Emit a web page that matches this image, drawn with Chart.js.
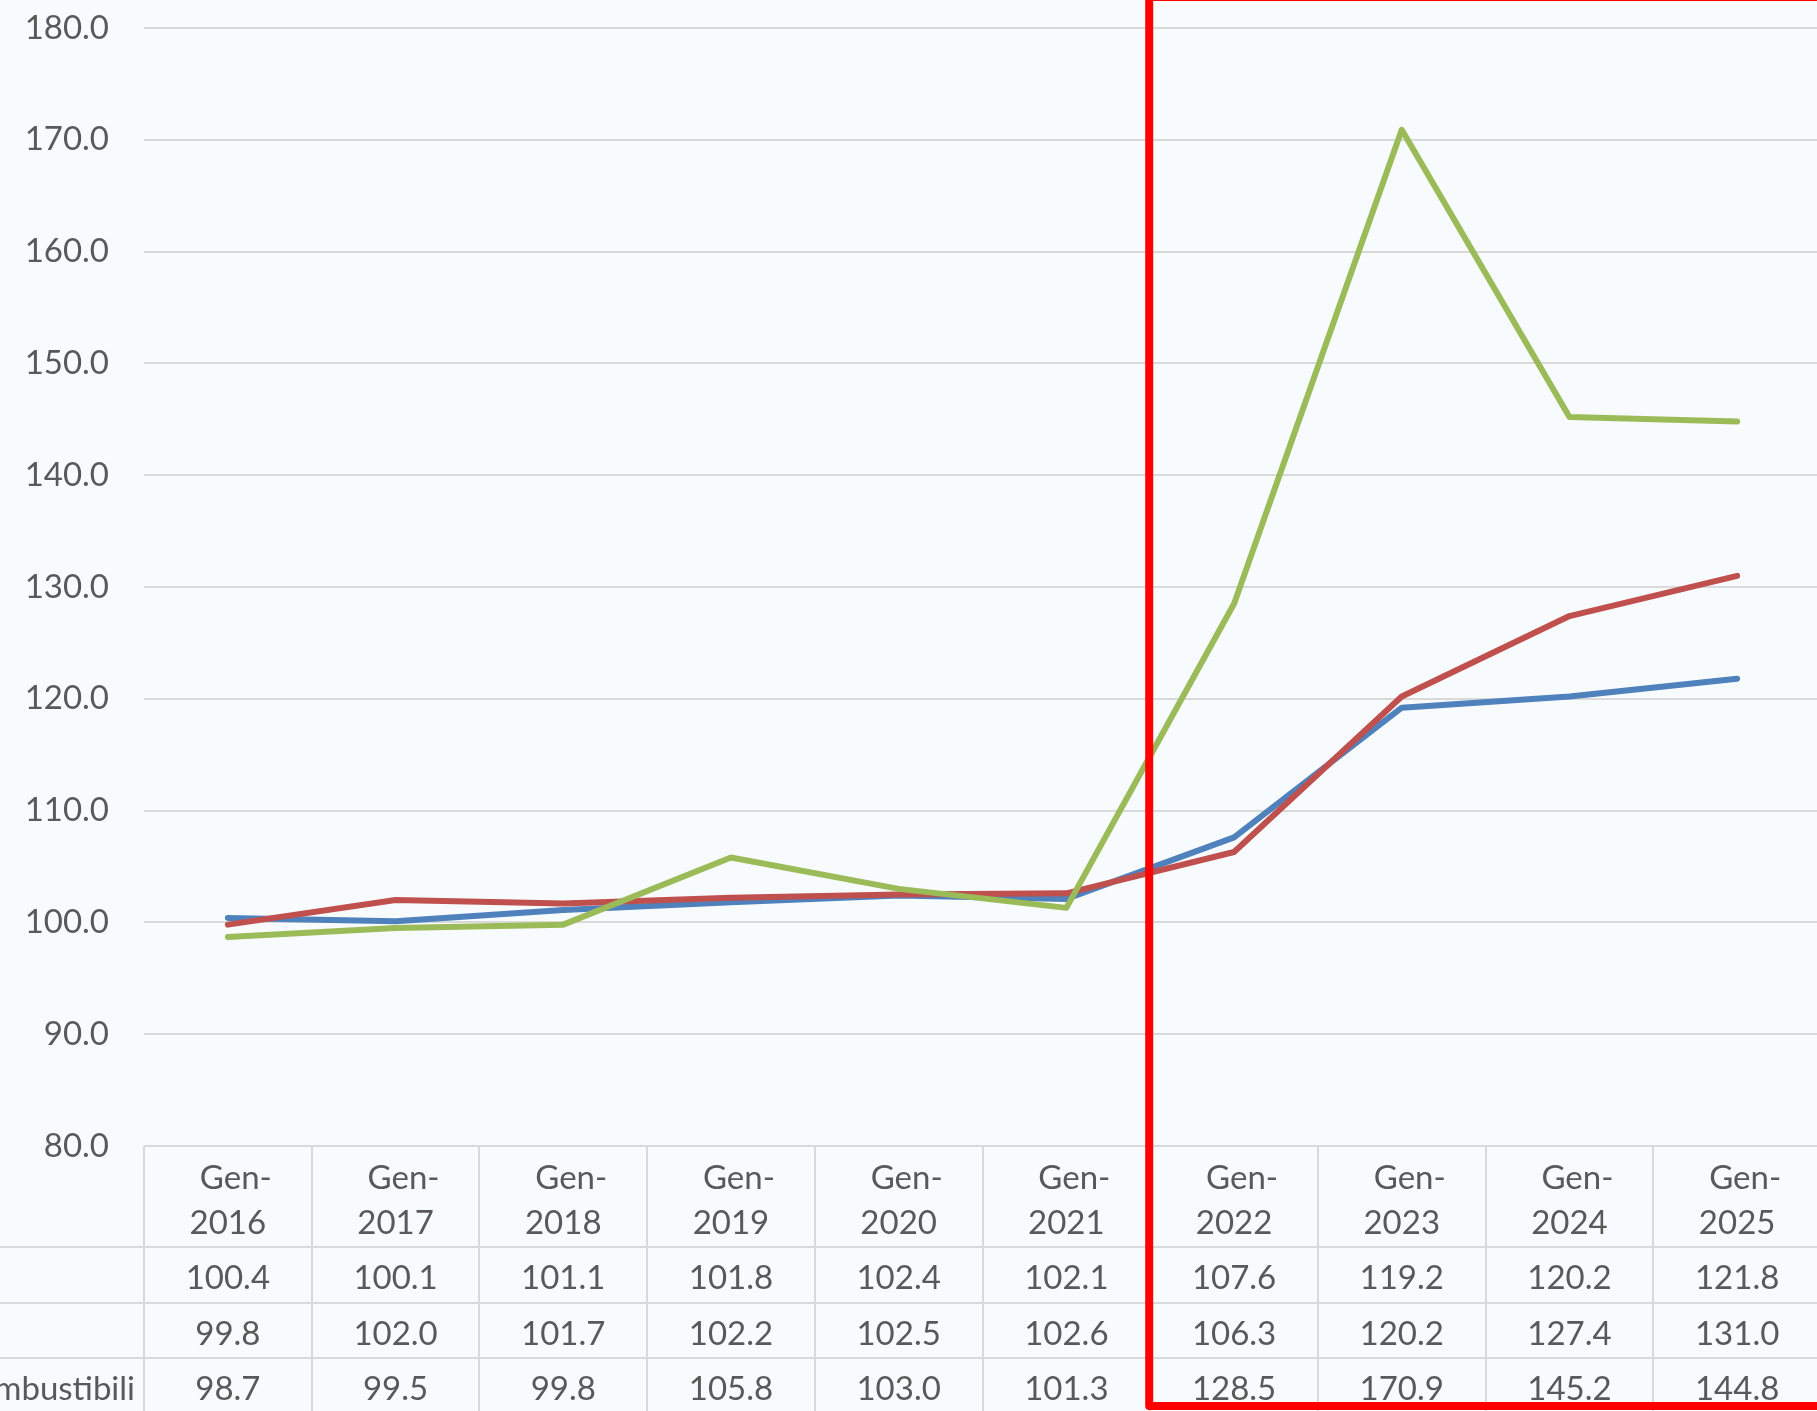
<!DOCTYPE html>
<html>
<head>
<meta charset="utf-8">
<script src="https://cdn.jsdelivr.net/npm/chart.js@4/dist/chart.umd.min.js"></script>
<style>
  html, body { margin: 0; padding: 0; background: #F7FBFE; overflow: hidden; }
  #wrap { width: 1817px; height: 1411px; overflow: hidden; position: relative; }
  canvas { position: absolute; left: 0; top: 0; }
</style>
</head>
<body>
<div id="wrap"><canvas id="myChart" width="1822" height="1414"></canvas></div>
<script>
const categories = ["Gen-2016", "Gen-2017", "Gen-2018", "Gen-2019", "Gen-2020",
                    "Gen-2021", "Gen-2022", "Gen-2023", "Gen-2024", "Gen-2025"];
const seriesNames = ["", "", "Combustibili"];
const blueValues  = [100.4, 100.1, 101.1, 101.8, 102.4, 102.1, 107.6, 119.2, 120.2, 121.8];
const redValues   = [99.8, 102.0, 101.7, 102.2, 102.5, 102.6, 106.3, 120.2, 127.4, 131.0];
const greenValues = [98.7, 99.5, 99.8, 105.8, 103.0, 101.3, 128.5, 170.9, 145.2, 144.8];
const yTicks = [80, 90, 100, 110, 120, 130, 140, 150, 160, 170, 180];
const highlightFrom = 6; // first category inside the red box

const textColor = "#595959";
const gridColor = "#D9D9D9";
const fontFamily = "Lato, 'Open Sans', sans-serif";
const fontSize = 33;

// background fill
const bgPlugin = {
  id: "bg",
  beforeDraw(chart) {
    const ctx = chart.ctx;
    ctx.save();
    ctx.fillStyle = "#F7FBFE";
    ctx.fillRect(0, 0, chart.width, chart.height);
    ctx.restore();
  }
};

// data table under the plot + red box
const tablePlugin = {
  id: "table",
  afterDraw(chart) {
    const ctx = chart.ctx;
    const area = chart.chartArea;
    const x = chart.scales.x;
    const colW = (area.right - area.left) / categories.length;
    const headerH = 101;
    const rowH = 55.5;
    const top = area.bottom;
    const rows = [blueValues, redValues, greenValues];
    const bottom = chart.height;

    ctx.save();
    ctx.strokeStyle = gridColor;
    ctx.lineWidth = 2;
    // vertical lines
    for (let k = 0; k <= categories.length; k++) {
      const xx = Math.round(area.left + k * colW);
      ctx.beginPath();
      ctx.moveTo(xx, top);
      ctx.lineTo(xx, bottom);
      ctx.stroke();
    }
    // horizontal lines
    for (let r = 0; r < rows.length; r++) {
      const yy = Math.round(top + headerH + r * rowH);
      ctx.beginPath();
      ctx.moveTo(0, yy);
      ctx.lineTo(chart.width, yy);
      ctx.stroke();
    }

    ctx.fillStyle = textColor;
    ctx.font = fontSize + "px " + fontFamily;
    ctx.textBaseline = "middle";
    ctx.textAlign = "center";
    categories.forEach((c, i) => {
      const cx = x.getPixelForValue(i);
      const parts = c.split("-");
      ctx.fillText(parts[0] + "-", cx + 8, top + 32);
      ctx.fillText(parts[1], cx, top + 77);
      rows.forEach((vals, r) => {
        ctx.fillText(vals[i].toFixed(1), cx, top + headerH + r * rowH + rowH / 2 + 4);
      });
    });
    ctx.textAlign = "right";
    seriesNames.forEach((n, r) => {
      ctx.fillText(n, area.left - 9, top + headerH + r * rowH + rowH / 2 + 4);
    });

    // red highlight box
    ctx.strokeStyle = "#FF0000";
    ctx.lineWidth = 8;
    ctx.lineJoin = "round";
    const bx = area.left + highlightFrom * colW - 1;
    ctx.strokeRect(bx, -3, chart.width, bottom - 5);
    ctx.restore();
  }
};

const ctx = document.getElementById("myChart").getContext("2d");
const chart = new Chart(ctx, {
  type: "line",
  data: {
    labels: categories,
    datasets: [
      { label: "Serie 1", data: blueValues, borderColor: "#4F81BD", order: 3 },
      { label: "Serie 2", data: redValues, borderColor: "#C0504D", order: 2 },
      { label: "Combustibili", data: greenValues, borderColor: "#9BBB59", order: 1 }
    ]
  },
  options: {
    responsive: false,
    animation: false,
    devicePixelRatio: 1,
    layout: { padding: { top: 28, left: 0, right: 1, bottom: 268 } },
    elements: {
      line: { borderWidth: 6, tension: 0, borderCapStyle: "round", borderJoinStyle: "round", fill: false },
      point: { radius: 0, hoverRadius: 0 }
    },
    plugins: { legend: { display: false }, tooltip: { enabled: false } },
    scales: {
      x: { type: "category", offset: true, display: false },
      y: {
        min: 80,
        max: 180,
        afterFit(scale) { scale.width = 144; },
        afterBuildTicks(scale) { scale.ticks = yTicks.map(v => ({ value: v })); },
        ticks: {
          padding: 0,
          color: textColor,
          font: { family: fontFamily, size: fontSize },
          callback: (v) => Number(v).toFixed(1)
        },
        grid: { color: gridColor, lineWidth: 2, drawTicks: true, tickLength: 35, tickColor: "rgba(0,0,0,0)" },
        border: { display: false }
      }
    }
  },
  plugins: [bgPlugin, tablePlugin]
});
</script>
</body>
</html>
